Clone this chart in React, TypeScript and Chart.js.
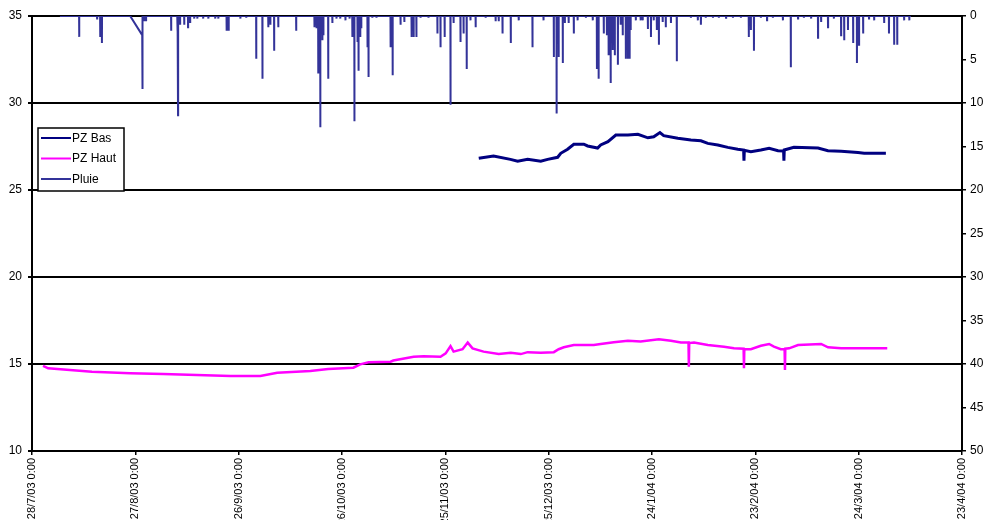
import React, { useEffect, useRef } from "react";
import { Chart, registerables } from "chart.js";

Chart.register(...registerables);

// Days are counted from 28/7/2003 0:00.
const startDate = Date.UTC(2003, 6, 28);
const xTickDays = [0, 30, 60, 90, 120, 150, 180, 210, 240, 270];

// Lower piezometer (m)
const pzBasDay = [
  129.7, 134.0, 138.9, 141.0, 143.9, 147.7, 149.7, 152.6, 153.5, 155.5, 157.3, 160.2,
  161.3, 164.2, 165.1, 167.2, 169.5, 173.0, 175.9, 178.8, 180.5, 182.3, 183.4, 187.5,
  191.3, 194.2, 196.2, 199.1, 202.0, 204.9, 206.6, 206.7, 206.8, 208.7, 211.6, 214.0,
  216.6, 218.2, 218.3, 218.4, 221.2, 228.2, 231.1, 234.9, 239.8, 241.6, 247.9,
];
const pzBasLevel = [
  26.82, 26.95, 26.76, 26.65, 26.76, 26.65, 26.76, 26.88, 27.11, 27.34, 27.63, 27.63,
  27.53, 27.41, 27.59, 27.78, 28.16, 28.16, 28.2, 28.0, 28.06, 28.3, 28.12, 27.97,
  27.87, 27.83, 27.68, 27.59, 27.45, 27.34, 27.3, 26.68, 27.28, 27.2, 27.3, 27.4,
  27.26, 27.24, 26.68, 27.3, 27.45, 27.41, 27.26, 27.22, 27.15, 27.11, 27.11,
];

// Upper piezometer (m)
const pzHautDay = [
  3.2, 4.7, 11.0, 17.4, 28.5, 38.1, 57.6, 66.3, 71.2, 80.8, 86.0, 93.3, 95.3, 97.7,
  104.1, 104.9, 110.8, 113.7, 118.6, 120.1, 121.5, 122.4, 125.0, 126.5, 127.9, 131.1,
  135.5, 139.0, 141.9, 143.9, 147.7, 151.5, 152.9, 154.4, 157.3, 163.1, 165.1, 168.9,
  173.0, 176.7, 182.0, 185.5, 188.4, 190.6, 190.7, 190.8, 192.2, 196.2, 200.9, 203.8,
  206.6, 206.7, 206.8, 208.7, 211.6, 214.0, 215.4, 217.4, 218.5, 218.6, 218.7, 219.8,
  222.4, 229.1, 231.1, 234.9, 248.3,
];
const pzHautLevel = [
  14.89, 14.75, 14.66, 14.56, 14.47, 14.43, 14.31, 14.31, 14.5, 14.6, 14.71, 14.79,
  14.98, 15.1, 15.13, 15.2, 15.42, 15.45, 15.42, 15.61, 16.03, 15.71, 15.85, 16.23,
  15.9, 15.71, 15.57, 15.65, 15.57, 15.68, 15.65, 15.68, 15.85, 15.96, 16.09, 16.09,
  16.15, 16.25, 16.34, 16.29, 16.42, 16.34, 16.23, 16.23, 14.84, 16.2, 16.23, 16.09,
  15.99, 15.9, 15.88, 14.75, 15.86, 15.85, 16.05, 16.15, 16.0, 15.85, 15.86, 14.66,
  15.88, 15.9, 16.09, 16.15, 15.96, 15.9, 15.9,
];

// Rain gauge: recording periods and rainfall events (mm)
const rainPeriods = [
  [8.1, 28.5],
  [32.0, 255.2],
];
const rainDay = [
  13.7, 18.9, 19.8, 20.3,
  32.0, 32.1, 32.6, 33.1, 40.4, 42.2, 42.4, 43.0, 44.2, 45.3, 45.9, 47.1, 48.0, 49.7,
  51.2, 53.2, 54.1, 56.5, 56.8, 57.1, 60.5, 62.2, 65.1, 66.9, 68.6, 69.2, 70.3, 71.5,
  76.7, 82.0, 82.6, 83.1, 83.7, 84.3, 84.6, 86.0, 87.2, 88.4, 89.5, 91.0, 92.2, 93.0,
  93.6, 94.5, 94.8, 95.3, 95.6, 97.4, 97.7, 98.8, 100.0, 104.1, 104.7, 107.0, 108.1,
  110.2, 110.8, 111.6, 112.8, 115.1, 117.7, 118.6, 119.8, 121.5, 122.4, 124.4, 125.3,
  126.2, 127.3, 128.8, 131.7, 134.6, 135.5, 136.6, 139.0, 141.3, 145.3, 148.5, 151.5,
  152.3, 152.9, 154.1, 154.7, 155.8, 157.3, 158.4, 160.8, 162.8, 164.0, 164.5, 166.0,
  166.9, 167.4, 168.0, 168.6, 169.2, 170.1, 170.9, 171.5, 172.4, 173.0, 173.5, 173.8,
  175.3, 176.7, 177.3, 178.8, 179.7, 180.5, 181.4, 182.0, 183.1, 184.0, 185.5, 187.2,
  191.3, 193.3, 194.2, 195.6, 197.7, 199.4, 201.5, 203.5, 205.8, 208.1, 208.7, 209.6,
  211.6, 213.4, 215.1, 218.0, 220.3, 222.4, 224.1, 226.2, 228.2, 229.1, 231.1, 232.8,
  234.9, 235.8, 236.9, 238.4, 239.5, 240.1, 241.3, 243.0, 244.5, 247.4, 248.8, 250.3,
  251.2, 253.2, 254.7,
];
const rainMm = [
  2.4, 0.3, 2.4, 3.1,
  2.2, 8.4, 0.6, 0.5, 1.7, 1.7, 11.4, 1.0, 1.0, 1.3, 0.7, 0.3, 0.3, 0.3,
  0.3, 0.3, 0.3, 1.7, 1.7, 1.7, 0.3, 0.2, 4.9, 7.2, 1.3, 1.0, 4.0, 1.3,
  1.7, 1.3, 1.4, 6.6, 12.8, 2.8, 2.2, 7.2, 0.8, 0.3, 0.3, 0.5, 0.3, 2.4,
  12.1, 3.0, 6.3, 2.4, 1.4, 3.6, 7.0, 0.2, 0.2, 3.6, 6.8, 1.0, 0.7,
  2.4, 2.4, 2.4, 0.2, 0.2, 2.0, 3.6, 2.4, 10.2, 0.8, 3.0, 2.0,
  6.1, 0.5, 1.3, 0.2, 0.6, 0.6, 2.0, 3.1, 0.5, 3.6, 0.5, 4.7,
  11.2, 4.7, 5.4, 0.8, 0.8, 2.0, 0.5, 0.2, 0.5, 6.1, 7.2, 2.0,
  2.2, 4.5, 7.7, 3.9, 4.5, 5.6, 1.0, 2.2, 4.9, 4.9, 4.9, 1.6,
  0.5, 0.5, 0.5, 1.5, 2.4, 0.5, 1.6, 3.3, 0.7, 1.3, 0.8, 5.2,
  0.2, 0.5, 1.0, 0.2, 0.2, 0.2, 0.2, 0.2, 0.2, 2.4, 1.6, 4.0,
  0.2, 0.5, 0.2, 0.5, 5.9, 0.3, 0.2, 0.3, 2.5, 0.7, 1.3, 0.3,
  2.2, 2.8, 1.6, 3.1, 5.4, 3.3, 2.0, 0.3, 0.5, 0.8, 2.0, 3.3,
  3.3, 0.5, 0.5,
];

const seriesLabels = ["PZ Bas", "PZ Haut", "Pluie"];
const seriesColors = ["#000080", "#ff00ff", "#333399"];

const FONT = "'Liberation Sans', Arial, sans-serif";

function formatDay(d: number): string {
  const t = new Date(startDate + Math.round(d) * 86400000);
  const yy = String(t.getUTCFullYear()).slice(2);
  return `${t.getUTCDate()}/${t.getUTCMonth() + 1}/${yy} 0:00`;
}

function pairs(xs: number[], ys: number[]) {
  return xs.map((x, i) => ({ x, y: ys[i] }));
}

// Rain readings are zero between events; each event is a short pulse.
function rainPoints() {
  const dt = 0.03;
  const pts: { x: number; y: number }[] = [];
  for (const [a, b] of rainPeriods) {
    const idx = rainDay.map((d, i) => i).filter((i) => rainDay[i] >= a && rainDay[i] <= b);
    if (!idx.length || rainDay[idx[0]] > a) pts.push({ x: a, y: 0 });
    for (const i of idx) {
      const d = rainDay[i];
      if (d - dt > a) pts.push({ x: d - dt, y: 0 });
      pts.push({ x: d, y: rainMm[i] });
      if (d + dt < b) pts.push({ x: d + dt, y: 0 });
    }
    if (!idx.length || rainDay[idx[idx.length - 1]] < b) pts.push({ x: b, y: 0 });
  }
  return pts;
}

const boxLegend = {
  id: "boxLegend",
  afterDraw(chart: any) {
    const ctx = chart.ctx;
    const x0 = 38, y0 = 128, w = 86, h = 63;
    ctx.save();
    ctx.fillStyle = "#ffffff";
    ctx.fillRect(x0, y0, w, h);
    ctx.strokeStyle = "#000000";
    ctx.lineWidth = 1.5;
    ctx.strokeRect(x0, y0, w, h);
    ctx.font = `12px ${FONT}`;
    ctx.textBaseline = "middle";
    chart.data.datasets.forEach((ds: any, i: number) => {
      const y = y0 + 10 + i * 20.5;
      ctx.strokeStyle = ds.borderColor;
      ctx.lineWidth = 2;
      ctx.beginPath();
      ctx.moveTo(x0 + 3, y);
      ctx.lineTo(x0 + 33, y);
      ctx.stroke();
      ctx.fillStyle = "#000000";
      ctx.fillText(ds.label, x0 + 34, y + 0.5);
    });
    ctx.restore();
  },
};

export default function App() {
  const ref = useRef<HTMLCanvasElement | null>(null);

  useEffect(() => {
    if (!ref.current) return;
    const tickFont = { family: FONT, size: 12 };
    const chart = new Chart(ref.current, {
      type: "line",
      data: {
        datasets: [
          {
            label: seriesLabels[0],
            data: pairs(pzBasDay, pzBasLevel),
            borderColor: seriesColors[0],
            borderWidth: 3,
            yAxisID: "y",
          },
          {
            label: seriesLabels[1],
            data: pairs(pzHautDay, pzHautLevel),
            borderColor: seriesColors[1],
            borderWidth: 2.5,
            yAxisID: "y",
          },
          {
            label: seriesLabels[2],
            data: rainPoints(),
            borderColor: seriesColors[2],
            borderWidth: 2,
            yAxisID: "y2",
          },
        ],
      },
      options: {
        animation: false,
        responsive: false,
        devicePixelRatio: 1,
        parsing: false,
        normalized: true,
        elements: { point: { radius: 0 }, line: { tension: 0 } },
        layout: { padding: { top: 16, left: 0, right: 0, bottom: 0 } },
        plugins: { legend: { display: false }, tooltip: { enabled: false } },
        scales: {
          x: {
            type: "linear",
            min: 0,
            max: 270,
            afterBuildTicks: (s: any) => {
              s.ticks = xTickDays.map((v) => ({ value: v }));
            },
            afterFit: (s: any) => {
              s.height = 69;
            },
            ticks: {
              autoSkip: false,
              minRotation: 90,
              maxRotation: 90,
              padding: 3,
              color: "#000",
              font: { family: FONT, size: 11 },
              callback: (v: any) => formatDay(Number(v)),
            },
            grid: { drawOnChartArea: false, color: "#000", lineWidth: 1.5, tickLength: 4 },
            border: { color: "#000", width: 2 },
          },
          y: {
            position: "left",
            min: 10,
            max: 35,
            afterFit: (s: any) => {
              s.width = 32;
            },
            ticks: { stepSize: 5, color: "#000", font: tickFont, padding: 6 },
            grid: { color: "#000", lineWidth: 2, tickLength: 4 },
            border: { color: "#000", width: 2 },
          },
          y2: {
            position: "right",
            reverse: true,
            min: 0,
            max: 50,
            afterFit: (s: any) => {
              s.width = 24;
            },
            ticks: { stepSize: 5, color: "#000", font: tickFont, padding: 4 },
            grid: { drawOnChartArea: false, color: "#000", lineWidth: 1.5, tickLength: 4 },
            border: { color: "#000", width: 2 },
          },
        },
      },
      plugins: [boxLegend],
    } as any);
    return () => chart.destroy();
  }, []);

  return (
    <div style={{ position: "fixed", left: 0, top: 0, width: 986, height: 520, background: "#fff" }}>
      <canvas ref={ref} width={986} height={520} style={{ display: "block" }} />
    </div>
  );
}
